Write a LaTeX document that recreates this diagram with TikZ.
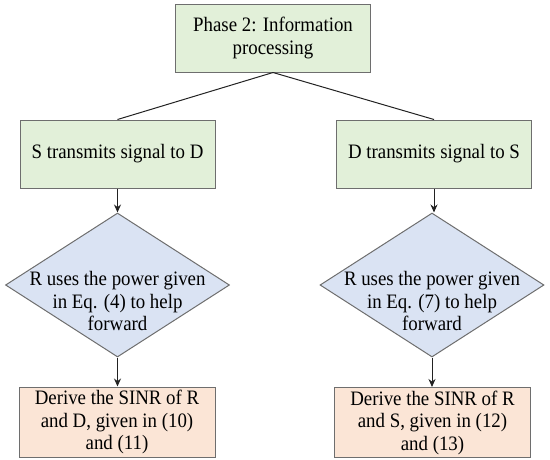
\documentclass[tikz,border=0pt]{standalone}
\usepackage{fontspec}
\setmainfont[FakeStretch=0.92]{Liberation Serif}
\usetikzlibrary{shapes.geometric,arrows.meta}
\definecolor{boxgreen}{HTML}{E2F0D9}
\definecolor{boxblue}{HTML}{DAE3F3}
\definecolor{boxorange}{HTML}{FBE5D6}
\definecolor{edgegray}{HTML}{6E6E6E}
\definecolor{linecol}{HTML}{222222}
\tikzset{
  txt/.style={font=\fontsize{20.5}{22.5}\selectfont, align=center},
  greenbox/.style={draw=edgegray, line width=1pt, fill=boxgreen, inner sep=0pt,
    minimum width=195pt, minimum height=68pt, txt},
  orangebox/.style={draw=edgegray, line width=1pt, fill=boxorange, inner sep=0pt,
    minimum width=196pt, minimum height=70pt, txt},
  diabox/.style={diamond, draw=edgegray, line width=1pt, fill=boxblue, inner sep=0pt,
    minimum width=224pt, minimum height=144pt},
  conn/.style={draw=linecol, line width=1pt},
  arr/.style={conn, -{Stealth[length=8pt,width=7pt]}},
}
\begin{document}
\begin{tikzpicture}[x=1pt,y=-1pt]
\useasboundingbox (0,0) rectangle (550,459);
\node[greenbox] (top) at (273,38) {Phase 2: Information\\processing};
\node[greenbox] (sd) at (117.5,154) {S transmits signal to D};
\node[greenbox] (ds) at (434,154) {D transmits signal to S};
\node[diabox, label={[txt, yshift=-16pt]center:R uses the power given\\in Eq. (4) to help\\forward}] (d1) at (117.5,285) {};
\node[diabox, label={[txt, yshift=-16pt]center:R uses the power given\\in Eq. (7) to help\\forward}] (d2) at (432,285) {};
\node[orangebox] (b1) at (117,422) {Derive the SINR of R\\and D, given in (10)\\and (11)};
\node[orangebox] (b2) at (432.5,422.5) {Derive the SINR of R\\and S, given in (12)\\and (13)};
\draw[conn] (top.south) -- (sd.north);
\draw[conn] (top.south) -- (ds.north);
\draw[arr] (sd.south) -- (d1.north);
\draw[arr] (ds.south) -- (d2.north -| ds.south);
\draw[arr] (d1.south) -- (b1.north -| d1.south);
\draw[arr] (d2.south) -- (b2.north -| d2.south);
\end{tikzpicture}
\end{document}
